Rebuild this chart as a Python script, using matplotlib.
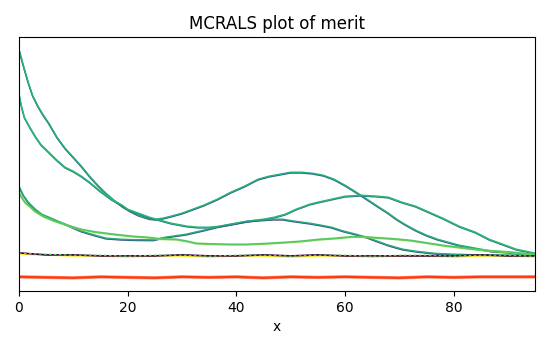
import matplotlib
matplotlib.use('Agg')
import matplotlib.pyplot as plt
import matplotlib.transforms as mtransforms

# merit curves (arbitrary units)
xa = [0, 0.5, 1, 1.7, 2.5, 3.5, 4.5, 5.5, 7, 8.5, 10, 11.5, 13, 14.5, 16, 17.5, 19, 20.5, 22, 24, 25,
      26.5, 28, 30, 32, 34, 36.5, 39, 41.5, 44, 46, 48, 50, 52, 54, 56, 58, 60, 61.5, 63.5, 66, 68,
      69.5, 71, 73, 75, 77, 79, 81, 84, 87, 90, 93, 95]
ya = [241, 231, 221, 208, 195, 184, 175, 167, 153, 142, 133, 124, 114, 105, 97, 90, 84, 79, 75, 71.5, 71,
      72, 74, 77, 81, 85, 91, 98, 104, 111, 114, 116, 118, 118, 117, 115, 111, 105, 100, 93, 84, 77,
      71, 66, 60, 55, 51, 48, 45, 42, 39, 38, 36, 35]

xb = [0, 0.5, 1, 2, 3, 4, 5.5, 7, 8.5, 10, 11.5, 13, 15, 17, 19, 20, 22, 24, 26, 28, 31, 33, 35, 37,
      39, 42, 45, 47, 49, 51, 53.5, 55, 57.5, 60, 63, 66, 68, 70.5, 73, 75.5, 78, 81, 84, 86.5, 89, 91.5, 95]
yb = [196, 183, 173, 163, 154, 146, 138, 130, 123, 119, 114, 108, 99, 91, 85, 81, 77, 73, 70, 67, 64, 63, 63, 64,
      66, 69, 71, 73, 76, 81, 86, 88, 91, 94, 95, 94, 93, 88, 84, 78, 72, 64, 58, 51, 46, 41, 37]

xc = [0, 0.8, 1.7, 3, 4.2, 5.5, 7.2, 9, 11.5, 14, 16, 18.6, 21, 24.7, 27, 30.8, 34, 37, 40, 42, 44,
      46.8, 48.5, 50.4, 53.5, 55.3, 57.5, 59.6, 62, 64, 65.8, 68, 70.6, 73, 76.8, 80, 84, 95]
yc = [104, 95, 88, 81, 76, 73, 69, 65, 59, 55, 52, 51, 50.5, 50.3, 53, 56, 60, 64, 67, 69, 70,
      71, 71, 69.3, 67, 65.3, 63, 59.3, 56, 53, 49.3, 45, 41, 39, 36.7, 36, 35.3, 35]

xd = [0, 0.5, 1.1, 2, 2.9, 4.5, 6.6, 9, 11.5, 14, 17.6, 21, 23.7, 26, 29, 30.8, 32.7, 35, 38.8, 42,
      46, 49, 51.7, 53.5, 55.3, 58, 61.4, 63.5, 65.8, 69, 72, 75, 78, 81, 84, 87, 90.3, 95]
yd = [98, 93, 88, 84, 79.3, 74, 69.3, 65, 61, 58.5, 56, 54, 53, 51.5, 51, 49.3, 47, 46.5, 46, 46,
      47, 48, 49, 50, 51, 52, 53.7, 53.5, 52.7, 51.5, 50, 47.5, 45, 43, 41, 39.5, 38.3, 36]

xflat = [0, 5, 10, 15, 20, 25, 30, 35, 40, 45, 50, 55, 60, 65, 70, 75, 80, 85, 90, 95]
y_black = [38, 36, 36, 35, 35, 35, 36, 35, 35, 36, 35, 36, 35, 35, 35, 35, 35, 36, 35, 35]
y_yellow = [37, 36, 35, 35, 34, 35, 35, 34, 35, 35, 34, 35, 35, 34, 35, 35, 34, 35, 35, 34]
y_red = [14, 13.5, 13, 14, 13.5, 13, 14, 13.5, 14, 13, 14, 13.5, 14, 13.5, 13, 14, 13.5, 14, 14, 14]

fig = plt.figure(figsize=(5.5, 3.5), dpi=100)
ax = fig.add_axes([0.0345, 0.169, 0.9385, 0.725])
up = mtransforms.offset_copy(ax.transData, fig=fig, x=0, y=0.5, units='points')

# each curve: dark viridis underneath, green on top slightly shifted
curves = [(xa, ya, '#3b528b', '#22b07a'),
          (xb, yb, '#2c728e', '#2ab873'),
          (xc, yc, '#3e4a89', '#25ab7d'),
          (xd, yd, '#7ad151', '#55c865')]
for xs, ys, dark, light in curves:
    ax.plot(xs, ys, color=dark, lw=1.1)
    ax.plot(xs, ys, color=light, lw=1.1, transform=up)

ax.plot(xflat, y_yellow, color='#fde725', lw=1.3)
ax.plot(xflat, y_black, color='#440154', lw=1.2)
ax.plot(xflat, y_black, color='#1a1a1a', lw=0.6, ls=(0, (4, 3)))
ax.plot(xflat, y_yellow, color='#5ec962', lw=0.9, ls=(0, (2, 2)), transform=up)
ax.plot(xflat, y_red, color='#ff8a70', lw=2.4)
ax.plot(xflat, y_red, color='#ff3a10', lw=1.5)

ax.set_xlim(0, 95)
ax.set_ylim(0, 254)
ax.set_yticks([])
ax.set_xticks([0, 20, 40, 60, 80])
ax.set_title('MCRALS plot of merit')
ax.set_xlabel('x')

fig.savefig('out.png', dpi=100)
